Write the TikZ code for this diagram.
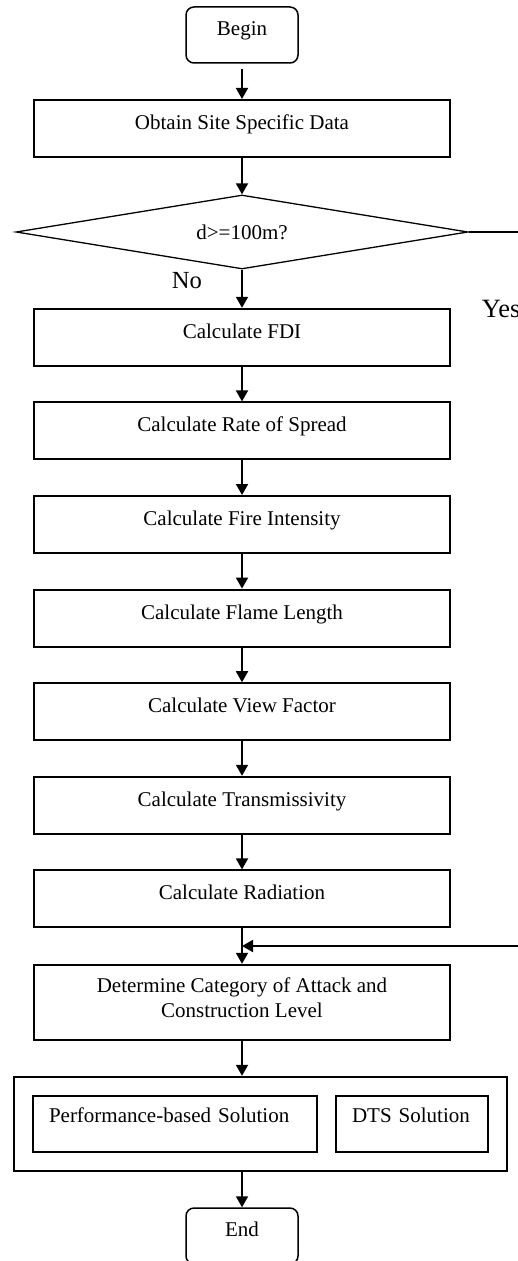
\documentclass[tikz,border=0pt]{standalone}
\usepackage{fontspec}
\setmainfont{Liberation Serif}
\usetikzlibrary{shapes.geometric,arrows.meta}

\newcommand\fctextstyle{\fontsize{10.5}{12.5}\selectfont}
\newcommand\fclabelstyle{\fontsize{12.3}{14}\selectfont}
\newcommand\fcboxwidth{208pt}
\newcommand\fcboxheight{28.5pt}

\tikzset{
  fcbox/.style={draw, line width=1pt, minimum width=\fcboxwidth,
    minimum height=\fcboxheight, inner sep=0pt, font=\fctextstyle,
    text height=7pt, text depth=6pt},
  fcround/.style={draw, line width=0.75pt, rounded corners=4pt,
    minimum width=56pt, minimum height=28pt, inner sep=0pt,
    font=\fctextstyle, text height=7pt, text depth=6.5pt},
  fcdecision/.style={diamond, aspect=6, draw, line width=0.65pt,
    minimum width=226pt, minimum height=37pt, inner sep=0pt,
    font=\fctextstyle},
  fcinner/.style={fcbox, minimum height=28pt, align=left,
    text depth=8.5pt},
  fcarrow/.style={line width=0.9pt, -{Triangle[width=6pt,length=5.5pt]}},
  fcline/.style={line width=0.9pt},
}

\begin{document}
\begin{tikzpicture}[x=0.5pt, y=-0.5pt]
  \useasboundingbox (0,0) rectangle (518,1261);

  % main column
  \node[fcround] (start) at (242,35) {Begin};
  \node[fcbox] (site) at (242,128.5) {Obtain Site Specific Data};
  \node[fcdecision] (dist) at (242,232) {d>=100m?};
  \node[fcbox] (fdi) at (242,337.3) {Calculate FDI};
  \node[fcbox] (spread) at (242,430.9) {Calculate Rate of Spread};
  \node[fcbox] (intensity) at (242,524.5) {Calculate Fire Intensity};
  \node[fcbox] (flame) at (242,618.1) {Calculate Flame Length};
  \node[fcbox] (view) at (242,711.7) {Calculate View Factor};
  \node[fcbox] (trans) at (242,805.3) {Calculate Transmissivity};
  \node[fcbox] (rad) at (242,898.9) {Calculate Radiation};
  \node[fcbox, minimum height=37.5pt, align=center, text height=19.5pt, text depth=4.5pt]
    (level) at (242,1002.3) {Determine Category of Attack and\\Construction Level};

  % solution group
  \node[draw, line width=1pt, minimum width=246.5pt, minimum height=47pt,
    inner sep=0pt] (solution) at (260.5,1123.8) {};
  \node[fcinner, minimum width=142pt, text width=126pt]
    (perf) at (175,1123.8) {Performance-based Solution};
  \node[fcinner, minimum width=76pt, text width=60pt]
    (dts) at (412,1123.8) {DTS Solution};

  \node[fcround] (finish) at (242,1236) {End};

  % branch labels
  \node[font=\fclabelstyle, inner sep=0pt] (no) at (187,281) {No};
  \node[font=\fontsize{13.2}{15}\selectfont, inner sep=0pt, anchor=west]
    (yes) at (481.5,308.5) {Yes};

  \coordinate (yesout) at (520,232);
  \coordinate (yesin) at (520,946);
  \coordinate (merge) at (242,946);

  % connectors
  \draw[fcarrow, shorten <=2.5pt] (start) -- (site);
  \draw[fcarrow] (site) -- (dist);
  \draw[fcarrow] (dist) -- (fdi);
  \draw[fcarrow] (fdi) -- (spread);
  \draw[fcarrow] (spread) -- (intensity);
  \draw[fcarrow] (intensity) -- (flame);
  \draw[fcarrow] (flame) -- (view);
  \draw[fcarrow] (view) -- (trans);
  \draw[fcarrow] (trans) -- (rad);
  \draw[fcarrow] (rad) -- (level);
  \draw[fcline] (dist.east) -- (yesout);
  \draw[fcarrow] (yesin) -- (merge);
  \draw[fcarrow] (level.south) -- (level.south |- solution.north);
  \draw[fcarrow] (start |- solution.south) -- (finish);
\end{tikzpicture}
\end{document}
